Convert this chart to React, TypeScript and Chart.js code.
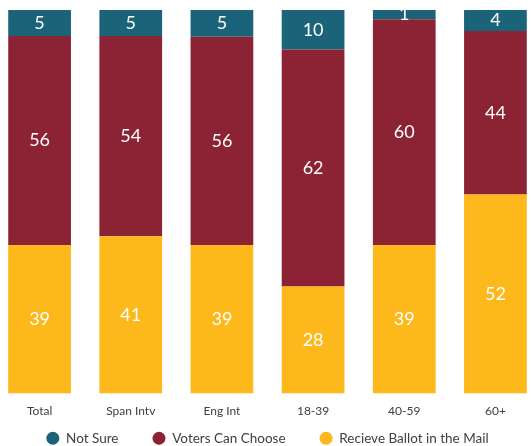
import React, { useEffect, useRef } from "react";
import { Chart, registerables } from "chart.js";

Chart.register(...registerables);

const categories = ["Total", "Span Intv", "Eng Int", "18-39", "40-59", "60+"];

// segment sizes as drawn (percent of bar)
const ballotInMail = [38.7, 41.0, 38.7, 27.9, 38.7, 51.9];
const votersCanChoose = [54.5, 52.2, 54.3, 61.8, 58.9, 42.6];
const notSure = [6.8, 6.8, 7.0, 10.3, 2.4, 5.5];

// printed data labels
const ballotInMailLabels = [39, 41, 39, 28, 39, 52];
const votersCanChooseLabels = [56, 54, 56, 62, 60, 44];
const notSureLabels = [5, 5, 5, 10, 1, 4];

const FONT = "Lato, 'Open Sans', sans-serif";

const labelPlugin = {
  id: "segLabels",
  afterLayout(chart: any) {
    // let the x tick labels draw below the (shrunken) axis box
    const x = chart.scales.x;
    if (x) x.bottom = chart.height;
  },
  afterDatasetsDraw(chart: any) {
    const ctx = chart.ctx;
    ctx.save();
    ctx.fillStyle = "#ffffff";
    ctx.font = `18px ${FONT}`;
    ctx.textAlign = "center";
    ctx.textBaseline = "middle";
    chart.data.datasets.forEach((ds: any, di: number) => {
      const meta = chart.getDatasetMeta(di);
      meta.data.forEach((bar: any, i: number) => {
        const txt = String(ds.labelsText[i]);
        const cy = (bar.y + bar.base) / 2;
        ctx.fillText(txt, bar.x, cy);
      });
    });
    ctx.restore();
  },
};

export default function App() {
  const ref = useRef<HTMLCanvasElement | null>(null);
  useEffect(() => {
    if (!ref.current) return;
    const chart = new Chart(ref.current, {
      type: "bar",
      data: {
        labels: categories,
        datasets: [
          {
            label: "Recieve Ballot in the Mail",
            data: ballotInMail,
            labelsText: ballotInMailLabels,
            backgroundColor: "#FDB81B",
            borderWidth: 0,
          } as any,
          {
            label: "Voters Can Choose",
            data: votersCanChoose,
            labelsText: votersCanChooseLabels,
            backgroundColor: "#8C2335",
            borderWidth: 0,
          } as any,
          {
            label: "Not Sure",
            data: notSure,
            labelsText: notSureLabels,
            backgroundColor: "#1B6379",
            borderWidth: 0,
          } as any,
        ],
      },
      options: {
        animation: false,
        responsive: false,
        layout: { padding: { top: 10, bottom: 0, left: 0, right: 0 } },
        datasets: { bar: { categoryPercentage: 1, barPercentage: 0.688 } },
        scales: {
          x: {
            stacked: true,
            grid: { display: false, drawTicks: false },
            border: { display: false },
            ticks: {
              color: "#404040",
              font: { family: FONT, size: 12 },
              padding: 10,
            },
            afterFit(scale: any) {
              scale.height = 4;
            },
          },
          y: {
            stacked: true,
            display: false,
            min: 0,
            max: 100,
          },
        },
        plugins: {
          tooltip: { enabled: false },
          legend: {
            position: "bottom",
            reverse: true,
            labels: {
              usePointStyle: true,
              pointStyle: "circle",
              boxHeight: 9.2,
              pointStyleWidth: 13,
              color: "#404040",
              font: { family: FONT, size: 13.5 },
              padding: 34,
            },
          },
        },
      },
      plugins: [labelPlugin],
    });
    return () => chart.destroy();
  }, []);

  return (
    <div
      style={{
        position: "fixed",
        left: 0,
        top: 0,
        width: 531,
        height: 446,
        overflow: "hidden",
        background: "#ffffff",
      }}
    >
      <div style={{ position: "absolute", left: -6, top: 0, width: 547, height: 455 }}>
        <canvas ref={ref} width={547} height={455} />
      </div>
    </div>
  );
}
